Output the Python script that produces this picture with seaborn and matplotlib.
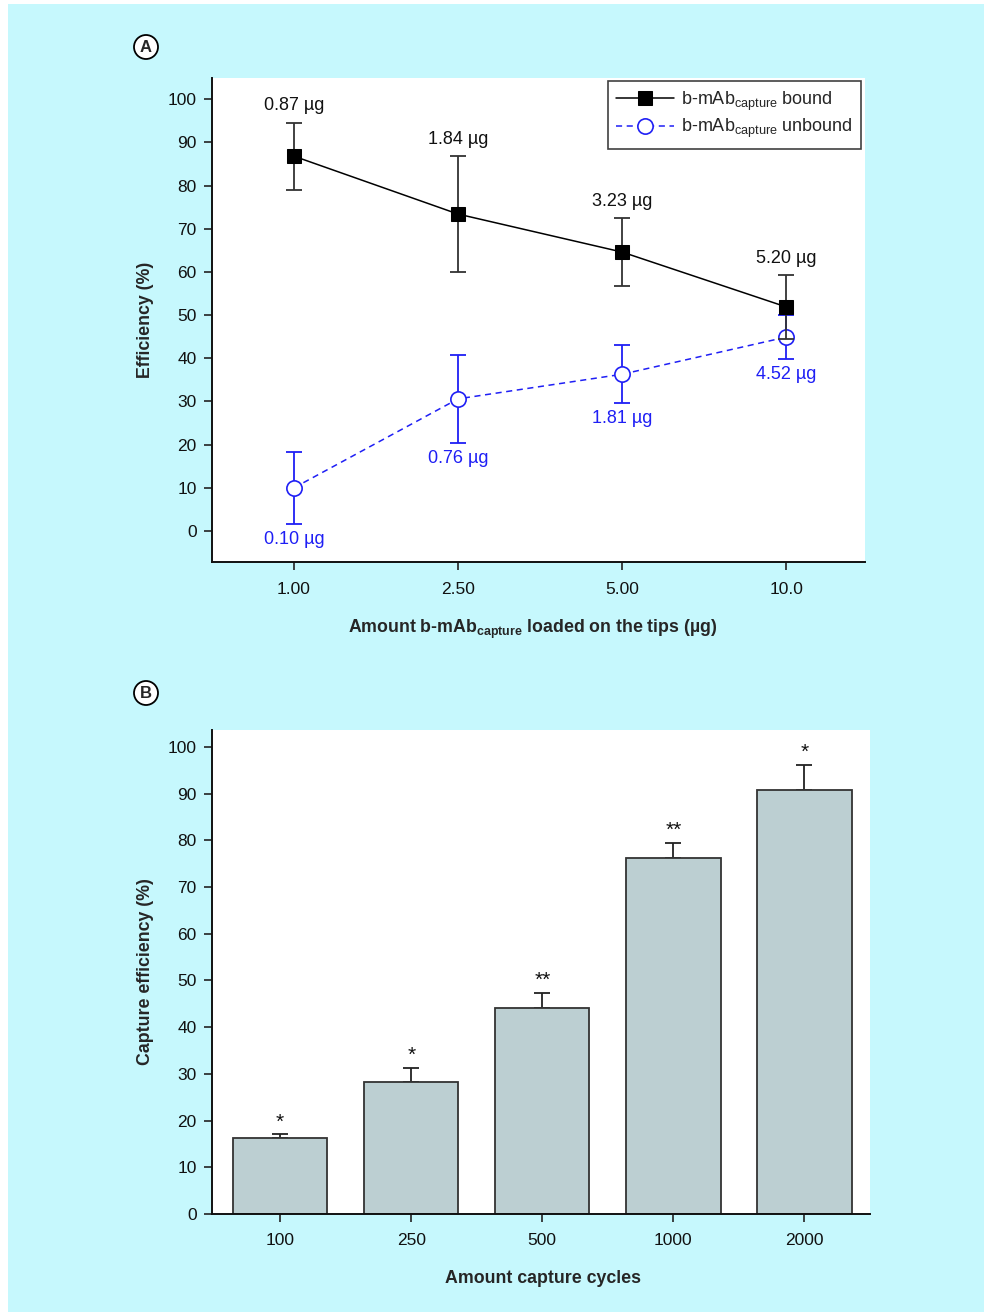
import numpy as np
import pandas as pd
import seaborn as sns
import matplotlib.pyplot as plt
from matplotlib.patches import Rectangle, Ellipse

# panel A: efficiency vs amount loaded
loads = ['1.00', '2.50', '5.00', '10.0']
bound_mean = [86.8, 73.4, 64.6, 51.9]
bound_err = [7.8, 13.4, 7.8, 7.4]
unbound_mean = [10.0, 30.6, 36.3, 44.9]
unbound_err = [8.4, 10.2, 6.7, 5.1]
bound_labels = ['0.87 µg', '1.84 µg', '3.23 µg', '5.20 µg']
unbound_labels = ['0.10 µg', '0.76 µg', '1.81 µg', '4.52 µg']

# panel B: capture efficiency vs cycles
cycles = ['100', '250', '500', '1000', '2000']
capture_mean = [16.3, 28.3, 44.1, 76.2, 90.8]
capture_err = [0.8, 3.0, 3.2, 3.2, 5.3]
stars = ['*', '*', '**', '**', '*']

BG = '#c6f8fd'
BLUE = '#1f1ff5'
BAR = '#bccfd2'
SUB = r'b-mAb$_{\mathregular{capture}}$'
W, H = 984, 1312

sns.set_style('white')
plt.rcParams['font.family'] = ['Liberation Sans', 'DejaVu Sans']
plt.rcParams['mathtext.fontset'] = 'custom'
plt.rcParams['mathtext.rm'] = 'Liberation Sans'

fig = plt.figure(figsize=(W / 100, H / 100), dpi=100, facecolor='white')
fig.patches.append(Rectangle((8 / W, 0), 1, 1308 / H, transform=fig.transFigure,
                             facecolor=BG, edgecolor='none', zorder=-10))

axA = fig.add_axes([0.2154, 0.5716, 0.6636, 0.3689])
axB = fig.add_axes([0.2154, 0.0747, 0.6687, 0.3689])


def style_axis(ax):
    ax.set_facecolor('white')
    for s in ('top', 'right'):
        ax.spines[s].set_visible(False)
    for s in ('left', 'bottom'):
        ax.spines[s].set_color('#111111')
        ax.spines[s].set_linewidth(1.4)
    ax.tick_params(axis='both', direction='out', length=6, width=1.2, color='#222222',
                   labelsize=12.5, labelcolor='#111111', left=True, bottom=True, pad=5)
    ax.set_yticks(range(0, 101, 10))


# ---- panel A
df_a = pd.DataFrame({'load': loads * 2,
                     'eff': bound_mean + unbound_mean,
                     'kind': ['bound'] * 4 + ['unbound'] * 4})

ax = axA
sns.lineplot(data=df_a[df_a.kind == 'unbound'], x='load', y='eff', ax=ax, color=BLUE,
             linestyle=(0, (4, 3)), linewidth=1.1, marker='o', markersize=11,
             markerfacecolor='white', markeredgecolor=BLUE, markeredgewidth=1.2,
             label=SUB + ' unbound', zorder=3)
ax.errorbar(loads, unbound_mean, yerr=unbound_err, fmt='none', ecolor=BLUE,
            elinewidth=1.3, capsize=6, capthick=1.3, zorder=2)
sns.lineplot(data=df_a[df_a.kind == 'bound'], x='load', y='eff', ax=ax, color='black',
             linewidth=1.1, marker='s', markersize=9.5, markeredgecolor='black',
             label=SUB + ' bound', zorder=5)
ax.errorbar(loads, bound_mean, yerr=bound_err, fmt='none', ecolor='#333333',
            elinewidth=1.3, capsize=6, capthick=1.3, zorder=4)

for i, lab in enumerate(bound_labels):
    ax.annotate(lab, (loads[i], bound_mean[i] + bound_err[i]), xytext=(0, 6),
                textcoords='offset points', ha='center', va='bottom', fontsize=13,
                color='#111111')
for i, lab in enumerate(unbound_labels):
    ax.annotate(lab, (loads[i], unbound_mean[i] - unbound_err[i]), xytext=(0, -5),
                textcoords='offset points', ha='center', va='top', fontsize=13,
                color=BLUE)

style_axis(ax)
ax.set_xlim(-0.5, 3.48)
ax.set_ylim(-7.2, 104.9)
ax.set_xlabel('')
ax.set_ylabel('')
ax.tick_params(axis='x', pad=8)

handles, labels = ax.get_legend_handles_labels()
leg = ax.legend(handles[::-1], labels[::-1], loc='upper right', bbox_to_anchor=(0.994, 0.993),
                borderaxespad=0, fancybox=False, edgecolor='#111111', fontsize=13,
                handlelength=3.2, borderpad=0.45, labelspacing=0.25, handletextpad=0.4)
leg.get_frame().set_linewidth(1.2)

fig.text(0.5414, 0.5206, 'Amount ' + r'b-mAb$_{\mathregular{capture}}$' + ' loaded on the tips (µg)',
         ha='center', va='center', fontsize=12.8, fontweight='bold')
fig.text(0.148, 0.756, 'Efficiency (%)', ha='center', va='center', rotation=90,
         fontsize=12.8, fontweight='bold')

# ---- panel B
ax = axB
sns.barplot(x=cycles, y=capture_mean, ax=ax, color=BAR, edgecolor='#333333',
            linewidth=1.3, width=0.72, saturation=1, zorder=2)
ax.errorbar(cycles, capture_mean, yerr=[np.zeros(len(cycles)), capture_err], fmt='none',
            ecolor='#222222', elinewidth=1.3, capsize=6, capthick=1.3, zorder=1)
for i, s in enumerate(stars):
    ax.annotate(s, (cycles[i], capture_mean[i] + capture_err[i]), xytext=(0, 2),
                textcoords='offset points', ha='center', va='bottom', fontsize=15,
                color='#111111')

style_axis(ax)
ax.set_xlim(-0.52, 4.5)
ax.set_ylim(0, 103.6)
ax.set_xlabel('')
ax.set_ylabel('')
ax.tick_params(axis='x', pad=8)

fig.text(0.552, 0.0259, 'Amount capture cycles', ha='center', va='center',
         fontsize=12.8, fontweight='bold')
fig.text(0.148, 0.2591, 'Capture efficiency (%)', ha='center', va='center', rotation=90,
         fontsize=12.8, fontweight='bold')

# circled panel letters (pixel centres)
for letter, (cx, cy) in (('A', (146, 47)), ('B', (146, 693))):
    fx, fy = cx / W, 1 - cy / H
    fig.patches.append(Ellipse((fx, fy), 24 / W, 24 / H, transform=fig.transFigure,
                               facecolor='white', edgecolor='black', linewidth=1.3))
    fig.text(fx, fy - 5.5 / H, letter, ha='center', va='baseline', fontsize=12,
             fontweight='bold')

fig.savefig('out.png', dpi=100, facecolor=fig.get_facecolor())
